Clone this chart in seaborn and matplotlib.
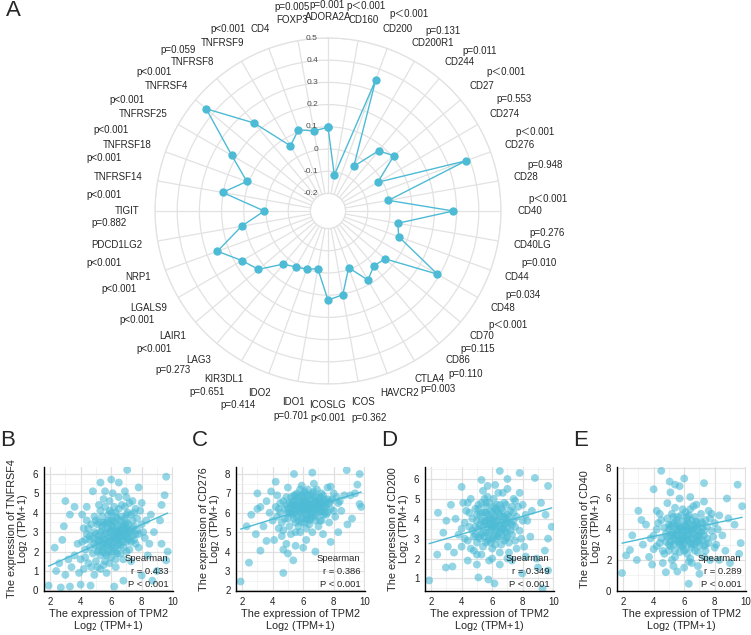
"""
Radar of TPM2 vs immune checkpoint genes (A) plus four correlation scatters (B-E).
"""
import numpy as np
import pandas as pd
import matplotlib
matplotlib.use('Agg')
import matplotlib.pyplot as plt
import seaborn as sns
from matplotlib.ticker import MultipleLocator

# ---- panel A data (clockwise from top) ----
genes = ['ADORA2A', 'CD160', 'CD200', 'CD200R1', 'CD244', 'CD27', 'CD274', 'CD276',
         'CD28', 'CD40', 'CD40LG', 'CD44', 'CD48', 'CD70', 'CD86', 'CTLA4', 'HAVCR2',
         'ICOS', 'ICOSLG', 'IDO1', 'IDO2', 'KIR3DL1', 'LAG3', 'LAIR1', 'LGALS9', 'NRP1',
         'PDCD1LG2', 'TIGIT', 'TNFRSF14', 'TNFRSF18', 'TNFRSF25', 'TNFRSF4', 'TNFRSF8',
         'TNFRSF9', 'CD4', 'FOXP3']
corr = [0.098, -0.115, 0.351, -0.047, 0.075, 0.108, -0.020, 0.382,
        -0.003, 0.285, 0.040, 0.060, 0.290, 0.056, 0.043, 0.080, -0.007,
        0.104, 0.122, -0.015, 0.000, 0.012, 0.033, 0.130, 0.168, 0.251,
        0.116, 0.008, 0.203, 0.110, 0.221, 0.437, 0.238,
        0.060, 0.110, 0.087]
pvals = ['p=0.001', 'p\uff1c0.001', 'p\uff1c0.001', 'p=0.131', 'p=0.011', 'p\uff1c0.001',
         'p=0.553', 'p\uff1c0.001', 'p=0.948', 'p\uff1c0.001', 'p=0.276', 'p=0.010',
         'p=0.034', 'p\uff1c0.001', 'p=0.115', 'p=0.110', 'p=0.003', 'p=0.362',
         'p<0.001', 'p=0.701', 'p=0.414', 'p=0.651', 'p=0.273', 'p<0.001', 'p<0.001',
         'p<0.001', 'p<0.001', 'p=0.882', 'p<0.001', 'p<0.001', 'p<0.001', 'p<0.001',
         'p<0.001', 'p=0.059', 'p<0.001', 'p=0.005']
r_ticks = [-0.2, -0.1, 0, 0.1, 0.2, 0.3, 0.4, 0.5]
r_tick_labels = ['-0.2', '-0.1', '0', '0.1', '0.2', '0.3', '0.4', '0.5']

# ---- panels B-E: (TPM2, gene) points ----
tnfrsf4_pts = [
    (4.0, 1.6), (4.3, 2.1), (4.5, 1.4), (4.6, 2.6), (4.8, 1.9), (4.9, 3.0), (5.0, 2.3), (5.1, 1.2),
    (5.2, 2.8), (5.3, 1.8), (5.4, 3.3), (5.5, 2.2), (5.6, 2.6), (5.6, 1.5), (5.7, 3.0), (5.8, 2.0),
    (5.8, 3.6), (5.9, 2.5), (6.0, 1.7), (6.0, 3.1), (6.1, 2.8), (6.2, 2.2), (6.2, 3.5), (6.3, 4.0),
    (6.4, 2.6), (6.4, 1.9), (6.5, 3.0), (6.6, 3.4), (6.6, 2.3), (6.7, 4.4), (6.8, 2.8), (6.8, 1.6),
    (6.9, 3.7), (7.0, 2.5), (7.0, 3.2), (7.1, 4.0), (7.2, 2.1), (7.3, 3.0), (7.4, 3.6), (7.5, 2.6),
    (7.6, 4.2), (7.7, 3.1), (7.8, 2.2), (8.0, 3.4), (8.2, 2.7), (5.0, 3.6), (5.3, 4.1), (4.7, 3.4),
    (4.4, 2.9), (4.2, 1.1), (3.8, 2.4), (3.6, 1.8), (3.4, 1.2), (5.9, 4.6), (6.1, 5.0), (6.5, 4.8),
    (7.0, 4.8), (7.3, 1.5), (6.3, 1.2), (5.7, 0.9), (4.9, 0.8), (3.9, 0.9), (8.4, 1.8), (8.6, 3.9),
    (4.1, 3.9), (5.5, 4.7), (6.9, 5.1), (7.4, 4.6), (8.0, 4.5),
    (4.1, 2.5), (4.2, 3.2), (4.3, 1.7), (4.4, 3.6), (4.6, 2.2), (4.7, 1.2), (4.8, 2.7), (4.9, 3.8),
    (5.0, 1.5), (5.1, 2.0), (5.1, 3.4), (5.2, 2.5), (5.2, 4.4), (5.3, 1.1), (5.3, 3.0), (5.4, 2.0),
    (5.4, 3.8), (5.5, 2.7), (5.5, 1.3), (5.6, 3.4), (5.6, 4.3), (5.7, 2.3), (5.7, 1.8), (5.8, 3.2),
    (5.8, 2.7), (5.9, 4.1), (5.9, 1.4), (6.0, 2.3), (6.0, 3.6), (6.1, 2.0), (6.1, 3.3), (6.2, 2.7),
    (6.2, 4.3), (6.3, 1.6), (6.3, 3.1), (6.4, 3.7), (6.4, 2.3), (6.5, 2.7), (6.5, 4.2), (6.6, 1.9),
    (6.6, 3.0), (6.7, 2.6), (6.7, 3.8), (6.8, 2.2), (6.8, 3.3), (6.9, 2.9), (6.9, 4.3), (7.0, 2.0),
    (7.0, 3.9), (7.1, 2.7), (7.1, 3.4), (7.2, 3.1), (7.2, 4.5), (7.3, 2.5), (7.3, 3.9), (7.4, 2.8),
    (7.5, 3.3), (7.5, 4.0), (7.6, 2.4), (7.7, 3.7), (7.8, 2.9), (7.9, 4.1), (8.1, 3.0), (8.3, 3.6),
    (8.5, 2.4), (6.0, 4.0), (5.5, 3.5), (6.3, 2.0), (4.5, 3.2), (4.3, 2.6),
    (4.9, 2.4), (5.0, 2.9), (5.2, 2.1), (5.3, 2.6), (5.4, 3.1), (5.5, 2.4), (5.6, 2.9), (5.7, 3.5),
    (5.8, 2.4), (5.9, 3.0), (6.0, 2.7), (6.1, 3.6), (6.1, 2.4), (6.2, 3.0), (6.3, 2.6), (6.4, 3.3),
    (6.5, 2.4), (6.6, 2.8), (6.7, 3.2), (6.8, 2.5), (6.9, 3.1), (7.0, 2.8), (7.1, 3.0), (7.2, 2.6),
    (5.4, 2.3), (5.9, 2.1), (6.4, 2.9), (6.9, 3.4), (5.2, 3.5), (6.6, 3.6), (7.4, 3.2), (5.8, 3.9),
    (6.3, 3.8), (7.0, 3.5), (4.6, 2.8), (5.1, 2.6), (6.0, 3.3), (6.5, 3.1), (7.6, 2.9), (5.6, 1.9),
    (7.05, 6.2), (9.6, 5.85), (9.5, 4.9), (9.3, 4.4), (5.3, 5.55), (6.0, 5.7), (6.5, 5.55),
    (5.6, 5.1), (4.4, 4.3), (3.6, 4.3), (3.3, 3.9), (2.9, 3.3), (2.3, 2.2), (1.9, 0.25),
    (2.7, 0.15), (3.3, 0.2), (4.0, 0.3), (4.65, 0.25), (6.2, 0.2), (6.8, 0.5), (8.0, 0.77),
    (9.3, 2.4), (9.7, 2.0), (9.6, 1.55), (9.0, 1.0), (8.8, 3.0), (2.4, 1.0), (2.6, 1.4),
    (3.0, 0.8), (3.2, 1.6), (2.8, 2.6), (8.7, 0.5), (9.2, 3.6), (7.8, 5.3), (3.0, 4.6), (4.8, 5.1)]
cd276_pts = [
    (4.0, 5.6), (4.2, 6.3), (4.4, 5.2), (4.5, 6.0), (4.7, 6.6), (4.8, 5.7), (5.0, 6.2), (5.1, 5.3),
    (5.2, 6.8), (5.3, 5.9), (5.4, 6.4), (5.5, 5.5), (5.6, 7.0), (5.7, 6.1), (5.8, 6.6), (5.9, 5.7),
    (6.0, 6.3), (6.1, 7.1), (6.2, 5.9), (6.3, 6.5), (6.4, 5.4), (6.5, 6.9), (6.6, 6.2), (6.7, 5.8),
    (6.8, 6.6), (6.9, 7.2), (7.0, 6.0), (7.1, 6.5), (7.2, 5.6), (7.3, 6.9), (7.4, 6.3), (7.5, 5.9),
    (7.6, 6.7), (7.8, 6.2), (8.0, 7.0), (8.1, 5.8), (8.3, 6.5), (8.5, 6.1), (3.8, 6.0), (3.6, 6.6),
    (4.3, 6.9), (4.6, 4.8), (5.2, 4.9), (5.8, 5.0), (6.6, 5.0), (7.0, 5.3), (5.0, 7.3), (5.9, 7.4),
    (6.7, 7.5), (7.6, 7.3), (3.4, 5.3), (4.1, 4.6), (6.2, 4.6), (7.3, 4.9), (8.7, 6.9), (4.9, 4.4),
    (5.5, 4.3), (6.0, 4.2), (3.2, 6.3), (3.9, 7.1),
    (4.3, 5.8), (4.5, 6.5), (4.6, 5.5), (4.8, 6.2), (4.9, 6.8), (5.0, 5.7), (5.1, 6.5), (5.2, 6.0),
    (5.3, 6.6), (5.4, 5.7), (5.5, 6.2), (5.6, 6.6), (5.7, 5.6), (5.8, 6.3), (5.9, 6.9), (6.0, 5.9),
    (6.1, 6.6), (6.2, 6.2), (6.3, 5.7), (6.3, 6.9), (6.4, 6.4), (6.5, 6.0), (6.6, 6.7), (6.7, 6.3),
    (6.8, 5.9), (6.9, 6.5), (7.0, 6.8), (7.1, 6.1), (7.2, 6.5), (7.3, 5.9), (7.4, 6.7), (7.5, 6.3),
    (7.6, 6.0), (7.7, 6.5), (7.9, 6.7), (8.0, 6.1), (8.2, 6.8), (5.0, 6.0), (5.5, 6.9), (6.0, 6.6),
    (6.5, 6.4), (7.0, 6.3), (5.7, 5.3), (6.4, 5.6), (7.1, 5.6), (4.7, 5.1), (5.5, 5.0), (6.2, 5.2),
    (7.7, 5.5), (5.9, 6.2), (6.8, 6.2), (5.3, 6.3), (6.1, 5.5), (6.6, 7.0), (7.2, 7.0), (4.4, 6.2),
    (8.4, 6.6), (5.8, 7.2), (6.3, 7.2),
    (5.1, 6.0), (5.2, 6.4), (5.3, 6.1), (5.4, 6.6), (5.5, 6.0), (5.6, 6.4), (5.7, 6.8), (5.8, 6.0),
    (5.9, 6.4), (6.0, 6.1), (6.0, 6.8), (6.1, 6.3), (6.2, 6.6), (6.3, 6.1), (6.4, 6.7), (6.5, 6.3),
    (6.6, 5.9), (6.7, 6.5), (6.8, 6.8), (6.9, 6.2), (7.0, 6.6), (7.1, 6.3), (7.2, 6.1), (7.3, 6.6),
    (7.4, 6.0), (7.5, 6.5), (5.6, 5.8), (6.2, 5.7), (6.8, 5.6), (7.3, 6.3), (5.4, 6.9), (6.1, 7.0),
    (6.7, 7.1), (5.9, 5.5), (6.5, 5.7), (7.8, 6.6), (4.9, 6.4), (5.7, 6.3), (6.4, 6.1), (7.1, 6.8),
    (1.9, 2.46), (2.45, 3.43), (4.7, 2.9), (5.35, 3.55), (3.2, 4.05), (4.7, 4.1), (3.6, 4.55),
    (2.3, 5.3), (3.0, 7.0), (5.4, 8.0), (6.6, 8.07), (8.85, 8.2), (9.7, 8.0), (9.55, 7.45),
    (9.7, 6.45), (9.2, 5.7), (7.8, 7.35), (3.0, 6.2), (2.6, 5.9), (8.3, 5.0), (7.8, 4.5),
    (9.1, 6.9), (2.9, 4.9), (6.8, 4.0), (5.0, 3.9), (9.8, 6.3), (8.9, 5.4), (4.2, 7.6), (9.4, 7.0)]
cd200_pts = [
    (3.8, 3.2), (4.0, 2.6), (4.2, 3.8), (4.4, 2.9), (4.5, 4.3), (4.7, 3.4), (4.8, 2.4), (5.0, 3.9),
    (5.1, 4.7), (5.2, 3.0), (5.3, 2.2), (5.4, 3.6), (5.5, 4.3), (5.6, 2.8), (5.7, 5.1), (5.8, 3.3),
    (5.9, 4.0), (6.0, 2.5), (6.1, 4.6), (6.2, 3.7), (6.3, 3.0), (6.4, 5.3), (6.5, 4.2), (6.6, 2.7),
    (6.7, 3.5), (6.8, 4.8), (6.9, 4.0), (7.0, 3.1), (7.1, 2.3), (7.2, 4.4), (7.3, 3.7), (7.4, 5.0),
    (7.5, 2.9), (7.6, 4.1), (7.8, 3.4), (8.0, 4.7), (8.1, 2.6), (8.3, 3.9), (3.6, 4.0), (4.1, 4.8),
    (4.6, 5.0), (5.4, 5.4), (6.2, 5.7), (7.0, 5.5), (7.8, 5.3), (4.4, 1.9), (5.0, 1.7), (5.8, 1.9),
    (6.5, 1.7), (7.3, 1.9), (8.2, 2.1), (3.5, 2.3), (8.6, 4.4), (4.9, 3.2), (6.3, 4.4), (5.6, 3.9),
    (6.9, 3.3), (8.5, 3.1),
    (4.0, 3.5), (4.2, 3.0), (4.3, 4.4), (4.5, 3.6), (4.6, 2.5), (4.7, 4.0), (4.8, 3.1), (4.9, 4.5),
    (5.0, 2.8), (5.1, 3.5), (5.2, 4.2), (5.3, 3.2), (5.3, 4.8), (5.4, 2.6), (5.5, 3.8), (5.6, 4.6),
    (5.6, 3.3), (5.7, 2.9), (5.7, 4.2), (5.8, 3.7), (5.8, 4.8), (5.9, 2.8), (5.9, 3.4), (6.0, 4.3),
    (6.0, 3.9), (6.1, 3.1), (6.1, 5.0), (6.2, 4.1), (6.2, 2.7), (6.3, 3.5), (6.3, 4.7), (6.4, 3.9),
    (6.4, 3.1), (6.5, 2.3), (6.5, 3.6), (6.6, 4.5), (6.6, 3.2), (6.7, 4.1), (6.8, 2.9), (6.8, 3.7),
    (6.9, 4.7), (7.0, 3.5), (7.0, 4.2), (7.1, 2.8), (7.2, 3.8), (7.3, 3.2), (7.4, 4.3), (7.5, 3.6),
    (7.6, 2.5), (7.7, 4.6), (7.9, 3.0), (8.0, 3.9), (8.2, 4.2), (5.0, 2.2), (6.0, 2.0), (7.0, 2.0),
    (5.5, 5.0), (6.7, 5.3), (4.4, 4.8), (7.5, 4.9),
    (4.9, 3.6), (5.0, 4.2), (5.1, 3.1), (5.2, 3.7), (5.3, 4.3), (5.4, 3.3), (5.5, 3.9), (5.6, 4.3),
    (5.7, 3.6), (5.8, 4.0), (5.9, 4.4), (6.0, 3.6), (6.0, 3.0), (6.1, 4.0), (6.2, 3.4), (6.3, 3.9),
    (6.4, 4.3), (6.5, 3.3), (6.6, 3.8), (6.7, 4.4), (6.8, 3.4), (6.9, 3.8), (7.0, 3.8), (7.1, 4.1),
    (7.2, 3.4), (5.5, 3.1), (6.2, 4.5), (6.8, 4.1), (5.8, 3.0), (6.5, 4.7), (5.3, 3.9), (7.3, 4.6),
    (6.1, 3.6), (6.6, 3.5), (5.6, 4.8), (7.4, 3.9), (5.1, 4.5), (6.3, 3.2), (6.9, 3.0), (5.9, 3.7),
    (1.87, 0.9), (2.45, 4.3), (2.97, 1.55), (3.4, 1.6), (5.1, 1.05), (5.75, 0.95), (6.15, 0.75),
    (6.5, 6.4), (5.7, 5.65), (5.3, 5.95), (7.8, 6.3), (8.8, 6.05), (9.66, 5.65), (9.66, 3.0),
    (9.45, 2.4), (9.0, 1.55), (9.66, 1.4), (9.3, 0.5), (7.97, 1.25), (2.8, 3.3), (3.1, 2.6),
    (2.4, 2.2), (9.2, 4.8), (9.5, 4.2), (8.9, 2.0), (3.0, 3.9), (4.0, 5.6), (7.0, 6.0), (3.3, 4.7),
    (9.9, 3.6)]
cd40_pts = [
    (3.8, 3.4), (4.0, 2.7), (4.2, 4.0), (4.4, 3.1), (4.5, 4.6), (4.7, 2.4), (4.8, 3.7), (5.0, 4.3),
    (5.1, 2.9), (5.2, 5.0), (5.3, 3.4), (5.4, 2.2), (5.5, 4.0), (5.6, 4.8), (5.7, 3.0), (5.8, 3.6),
    (5.9, 5.3), (6.0, 2.6), (6.1, 4.2), (6.2, 3.3), (6.3, 4.9), (6.4, 2.1), (6.5, 3.9), (6.6, 5.5),
    (6.7, 3.0), (6.8, 4.5), (6.9, 2.5), (7.0, 3.6), (7.1, 5.0), (7.2, 4.1), (7.3, 2.9), (7.4, 4.6),
    (7.5, 3.4), (7.6, 5.2), (7.8, 3.9), (8.0, 4.4), (8.1, 3.0), (8.3, 4.9), (8.5, 3.6), (3.5, 4.3),
    (3.7, 2.2), (4.2, 5.2), (4.9, 5.7), (5.7, 6.0), (6.4, 6.1), (7.3, 5.8), (4.6, 1.8), (5.3, 1.6),
    (6.0, 1.5), (6.9, 1.6), (7.7, 2.0), (3.3, 3.0), (8.7, 2.6), (8.9, 4.7), (5.0, 3.0), (6.2, 4.6),
    (4.0, 3.6), (4.2, 2.9), (4.3, 4.4), (4.5, 3.4), (4.6, 2.6), (4.7, 4.1), (4.8, 3.2), (4.9, 4.7),
    (5.0, 2.6), (5.1, 3.6), (5.2, 4.3), (5.3, 3.0), (5.3, 4.8), (5.4, 2.6), (5.5, 3.6), (5.6, 4.4),
    (5.6, 3.2), (5.7, 2.5), (5.7, 4.1), (5.8, 3.3), (5.8, 4.9), (5.9, 2.9), (5.9, 3.9), (6.0, 4.5),
    (6.0, 3.4), (6.1, 2.7), (6.1, 5.1), (6.2, 4.0), (6.2, 2.4), (6.3, 3.6), (6.3, 4.4), (6.4, 3.1),
    (6.4, 5.3), (6.5, 2.8), (6.5, 4.6), (6.6, 3.4), (6.6, 4.0), (6.7, 2.6), (6.7, 4.8), (6.8, 3.2),
    (6.9, 4.1), (6.9, 3.6), (7.0, 2.9), (7.1, 4.5), (7.2, 3.3), (7.3, 3.9), (7.4, 2.6), (7.5, 4.2),
    (7.6, 3.1), (7.7, 4.7), (7.9, 3.5), (8.0, 2.8), (8.2, 4.0), (5.2, 2.0), (6.3, 1.9), (7.3, 2.2),
    (5.4, 5.4), (6.8, 5.6), (4.4, 5.0), (7.8, 5.0),
    (4.9, 3.5), (5.0, 4.0), (5.1, 3.2), (5.2, 3.8), (5.3, 4.4), (5.4, 3.3), (5.5, 3.9), (5.6, 3.6),
    (5.7, 3.2), (5.8, 4.1), (5.9, 3.6), (6.0, 3.9), (6.0, 3.1), (6.1, 4.3), (6.2, 3.6), (6.3, 3.2),
    (6.4, 3.9), (6.5, 3.4), (6.6, 3.7), (6.7, 4.2), (6.8, 3.5), (6.9, 3.9), (7.0, 3.3), (7.1, 3.8),
    (7.2, 4.4), (5.5, 4.6), (6.2, 4.8), (6.8, 4.4), (5.8, 2.9), (6.5, 3.0), (5.3, 3.6), (7.3, 3.6),
    (6.1, 3.6), (6.6, 4.3), (5.6, 4.2), (7.4, 3.0), (5.1, 4.2), (6.3, 4.1), (6.9, 3.2), (5.9, 3.3),
    (1.93, 1.15), (4.5, 7.8), (5.05, 7.1), (5.4, 6.9), (5.7, 6.8), (5.1, 6.4), (7.3, 7.0),
    (9.5, 6.9), (9.8, 5.5), (3.2, 4.6), (2.45, 2.65), (2.9, 2.0), (3.9, 1.7), (5.55, 1.25),
    (6.3, 0.45), (6.5, 1.8), (9.7, 3.1), (8.3, 2.0), (2.6, 3.6), (2.2, 2.3), (3.0, 5.2),
    (4.0, 6.6), (6.0, 7.3), (9.3, 4.3), (9.6, 2.4), (8.8, 6.0), (7.0, 1.1), (4.8, 1.2), (9.0, 1.8)]

# lm fits as drawn in the panels: (intercept, slope)
tnfrsf4_fit = (0.585, 0.350)
cd276_fit = (4.70, 0.242)
cd200_fit = (2.33, 0.224)
cd40_fit = (2.68, 0.214)
spearman_r = ['0.433', '0.386', '0.349', '0.289']

BLUE = '#4DBBD5'
W, H = 751, 635


def frac(l, t, w, h):
    return [l / W, 1 - (t + h) / H, w / W, h / H]


sns.set_style('white')
plt.rcParams['font.family'] = ['Liberation Sans', 'Noto Sans CJK SC', 'DejaVu Sans']
fig = plt.figure(figsize=(W / 100, H / 100), dpi=100)

# ================= A: radar =================
R_PX = 173
pax = fig.add_axes(frac(328 - R_PX, 211 - R_PX, 2 * R_PX, 2 * R_PX), projection='polar')
theta = np.deg2rad(np.arange(len(genes)) * 360 / len(genes))
pax.set_theta_zero_location('N')
pax.set_theta_direction(-1)
pax.set_rlim(-0.2, 0.5)
pax.set_rorigin(-0.279)
pax.set_xticks(theta)
pax.set_yticks(r_ticks)
pax.set_xticklabels([])
pax.set_yticklabels([])
pax.grid(True, color='#E2E2E2', lw=0.9)
for sp in pax.spines.values():
    sp.set_color('#E2E2E2')
    sp.set_linewidth(0.9)

pax.plot(np.append(theta, theta[0]), corr + [corr[0]], color=BLUE, lw=1.0,
         marker='o', ms=5, mec=BLUE, zorder=3, clip_on=False)

for v, lab in zip(r_ticks, r_tick_labels):
    pax.annotate(lab, xy=(0, v), xytext=(-10, 0), textcoords='offset pixels',
                 ha='right', va='center', fontsize=6, color='#4D4D4D')

# gene labels ggplot-style justified, p-values nudged off them
p_nudge = [(-1, -12), (3, -14), (11, -15), (10, -12), (20, -11), (24, -14), (9, -15), (15, -13),
           (19, -12), (19, -12), (14, -12), (22, -14), (21, -13), (26, -11), (20, -11), (36, -5),
           (39, -4), (6, 16), (0, 13), (-2, 14), (-21, 12), (-17, 13), (-25, 10), (-19, 13),
           (-11, 12), (-19, 12), (-13, 18), (-18, 12), (-14, 18), (-23, 13), (-32, 16), (-40, 14),
           (-39, 10), (-45, 7), (-32, 0), (0, -13)]
label_r = -0.279 + 189 / (R_PX / 0.779)
fig.canvas.draw()
renderer = fig.canvas.get_renderer()
for th, g, p, (dx, dy) in zip(theta, genes, pvals, p_nudge):
    t = pax.annotate(g, xy=(th, label_r), xytext=(0, 0), textcoords='offset pixels',
                     ha='center', va='center', fontsize=7, annotation_clip=False)
    bb = t.get_window_extent(renderer)
    hj = 0.5 * (1 - np.sin(th))
    vj = 0.5 * (1 - np.cos(th))
    t.xyann = ((0.5 - hj) * bb.width, (0.5 - vj) * bb.height)
    pax.annotate(p, xy=(0.5, 0.5), xycoords=t, xytext=(dx, -dy), textcoords='offset pixels',
                 ha='center', va='center', fontsize=7, annotation_clip=False)

fig.text(6 / W, 1 - 11 / H, 'A', fontsize=16, ha='left', va='center')

# ================= B-E: scatters =================
panels = [
    ('B', 'TNFRSF4', tnfrsf4_pts, tnfrsf4_fit, 44, (-0.03, 6.35), 1),
    ('C', 'CD276', cd276_pts, cd276_fit, 236, (1.97, 8.36), 1),
    ('D', 'CD200', cd200_pts, cd200_fit, 425, (0.37, 6.6), 1),
    ('E', 'CD40', cd40_pts, cd40_fit, 617, (-0.02, 8.05), 2),
]
for (letter, gene, pts, fit, left, ylim, ystep), r in zip(panels, spearman_r):
    ax = fig.add_axes(frac(left, 467, 129, 124))
    df = pd.DataFrame(pts, columns=['TPM2', gene])
    sns.scatterplot(data=df, x='TPM2', y=gene, ax=ax, s=32, color=BLUE, alpha=0.6,
                    edgecolor='none', zorder=2)
    xs = np.array([df['TPM2'].min(), df['TPM2'].max()])
    sns.lineplot(x=xs, y=fit[0] + fit[1] * xs, ax=ax, color=BLUE, lw=1.0, zorder=3)

    ax.set_xlim(1.6, 10.05)
    ax.set_ylim(*ylim)
    ax.xaxis.set_major_locator(MultipleLocator(2))
    ax.xaxis.set_minor_locator(MultipleLocator(1))
    ax.yaxis.set_major_locator(MultipleLocator(ystep))
    ax.yaxis.set_minor_locator(MultipleLocator(ystep / 2))
    ax.grid(which='major', color='#E0E0E0', lw=0.9)
    ax.grid(which='minor', color='#EEEEEE', lw=0.5)
    ax.set_axisbelow(True)
    for side in ['top', 'right']:
        ax.spines[side].set_visible(False)
    for side in ['left', 'bottom']:
        ax.spines[side].set_color('black')
        ax.spines[side].set_linewidth(1.0)
    ax.tick_params(which='major', length=2.5, width=0.8, color='black',
                   labelsize=7, pad=1.5, labelcolor='#222222')
    ax.tick_params(which='minor', length=0)
    ax.set_xlabel('The expression of TPM2\nLog$_2$ (TPM+1)', fontsize=7.8,
                  labelpad=2, linespacing=0.95)
    ax.set_ylabel(f'The expression of {gene}\nLog$_2$ (TPM+1)', fontsize=7.8,
                  labelpad=2, linespacing=0.95)

    for yy, txt in zip([0.266, 0.161, 0.056], ['Spearman', f'r = {r}', 'P < 0.001']):
        ax.text(0.965, yy, txt, transform=ax.transAxes, ha='right', va='center', fontsize=6.8)

    fig.text((left - 44) / W, 1 - 441 / H, letter, fontsize=16, ha='left', va='center')

fig.savefig('out.png', dpi=100)
